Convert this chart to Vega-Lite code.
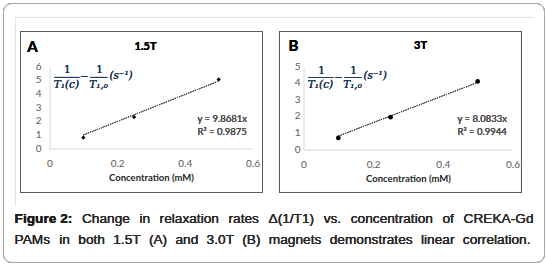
{
  "$schema": "https://vega.github.io/schema/vega-lite/v6.json",
  "autosize": {"type": "pad"},
  "padding": {"left": 2.5, "top": 2.5, "right": 2.5, "bottom": 2.5},
  "background": "white",
  "bounds": "flush",
  "spacing": 51,
  "config": {
    "view": {"stroke": null},
    "axis": {
      "grid": false, "ticks": false, "domainColor": "#d9d9d9", "domainWidth": 1,
      "labelColor": "#595959", "labelFont": "Lato", "labelFontSize": 10, "labelOverlap": false, "labelFlush": false,
      "titleFont": "Lato", "titleFontSize": 9.5, "titleFontWeight": "bold", "titleColor": "#262626"
    },
    "axisY": {"labels": false},
    "text": {"font": "Lato", "fontWeight": "normal"}
  },
  "hconcat": [
    {
      "width": 203,
      "height": 82,
      "data": {"values": [
        {"conc": 0.1, "rate": 0.8},
        {"conc": 0.25, "rate": 2.3},
        {"conc": 0.5, "rate": 5.05}
      ]},
      "layer": [
        {
          "mark": {"type": "rect", "fill": null, "stroke": "#a8a8a8", "strokeWidth": 1, "cornerRadius": 8},
          "encoding": {"x": {"datum": -0.13596}, "x2": {"datum": 1.46306}, "y": {"datum": 10.6095}, "y2": {"datum": -8.341}}
        },
        {
          "mark": {"type": "rule", "stroke": "#e3e3e3", "strokeWidth": 1},
          "encoding": {"x": {"datum": -0.1005}, "x2": {"datum": 1.4306}, "y": {"datum": 9.585}}
        },
        {
          "mark": {"type": "rule", "stroke": "#e3e3e3", "strokeWidth": 1},
          "encoding": {"x": {"datum": -0.1005}, "y": {"datum": 9.585}, "y2": {"datum": -4.17}}
        },
        {
          "mark": {"type": "rect", "fill": null, "stroke": "#5a5a5a", "strokeWidth": 1},
          "encoding": {"x": {"datum": -0.0857}, "x2": {"datum": 0.6296}, "y": {"datum": 8.56}, "y2": {"datum": -3.22}}
        },
        {
          "mark": {"type": "rule", "stroke": "#404040", "strokeWidth": 1, "strokeDash": [1.2, 1.2]},
          "encoding": {"x": {"datum": 0.1}, "x2": {"datum": 0.5}, "y": {"datum": 0.98681}, "y2": {"datum": 4.93405}}
        },
        {
          "mark": {"type": "point", "shape": "diamond", "filled": true, "color": "black", "size": 18, "opacity": 1},
          "encoding": {
            "x": {"field": "conc", "type": "quantitative", "scale": {"domain": [0, 0.6], "nice": false},
              "axis": {"values": [0, 0.2, 0.4, 0.6], "format": "~g", "labelPadding": 10, "titlePadding": 4, "title": "Concentration (mM)"}},
            "y": {"field": "rate", "type": "quantitative", "scale": {"domain": [0, 6], "nice": false},
              "axis": {"labels": false, "title": null}}
          }
        },
        {
          "data": {"values": [{"tick": 0}, {"tick": 1}, {"tick": 2}, {"tick": 3}, {"tick": 4}, {"tick": 5}, {"tick": 6}]},
          "mark": {"type": "text", "font": "Lato", "fontSize": 10, "color": "#595959", "align": "right", "baseline": "middle"},
          "encoding": {"x": {"datum": -0.0236}, "y": {"field": "tick", "type": "quantitative"}, "text": {"field": "tick", "type": "quantitative"}}
        },
        {
          "mark": {"type": "text", "text": "A", "fontSize": 15, "fontWeight": "bold", "color": "#000000", "align": "center", "baseline": "middle"},
          "encoding": {"x": {"datum": -0.0502}, "y": {"datum": 7.463}}
        },
        {
          "mark": {"type": "text", "text": "1.5T", "fontSize": 11, "fontWeight": "bold", "color": "#000000", "align": "center", "baseline": "middle"},
          "encoding": {"x": {"datum": 0.2838}, "y": {"datum": 7.463}}
        },
        {
          "mark": {"type": "text", "text": "y = 9.8681x", "fontSize": 9.5, "color": "#505050", "align": "left", "baseline": "middle"},
          "encoding": {"x": {"datum": 0.4374}, "y": {"datum": 2.195}}
        },
        {
          "mark": {"type": "text", "text": "R² = 0.9875", "fontSize": 9.5, "color": "#505050", "align": "left", "baseline": "middle"},
          "encoding": {"x": {"datum": 0.4374}, "y": {"datum": 1.171}}
        },
        {
          "mark": {"type": "text", "text": "1", "font": "DejaVu Serif", "fontSize": 10.5, "color": "#1f3b5c", "align": "center", "baseline": "middle"},
          "encoding": {"x": {"datum": 0.053}, "y": {"datum": 5.71}}
        },
        {
          "mark": {"type": "rule", "stroke": "#1f3b5c", "strokeWidth": 0.8},
          "encoding": {"x": {"datum": 0.015}, "x2": {"datum": 0.089}, "y": {"datum": 5.2}}
        },
        {
          "mark": {"type": "text", "text": "T₁(c)", "font": "DejaVu Serif", "fontStyle": "italic", "fontSize": 10.5, "color": "#1f3b5c", "align": "center", "baseline": "middle"},
          "encoding": {"x": {"datum": 0.05}, "y": {"datum": 4.65}}
        },
        {
          "mark": {"type": "text", "text": "−", "font": "DejaVu Serif", "fontSize": 10.5, "color": "#1f3b5c", "align": "center", "baseline": "middle"},
          "encoding": {"x": {"datum": 0.103}, "y": {"datum": 5.2}}
        },
        {
          "mark": {"type": "text", "text": "1", "font": "DejaVu Serif", "fontSize": 10.5, "color": "#1f3b5c", "align": "center", "baseline": "middle"},
          "encoding": {"x": {"datum": 0.148}, "y": {"datum": 5.71}}
        },
        {
          "mark": {"type": "rule", "stroke": "#1f3b5c", "strokeWidth": 0.8},
          "encoding": {"x": {"datum": 0.121}, "x2": {"datum": 0.171}, "y": {"datum": 5.2}}
        },
        {
          "mark": {"type": "text", "text": "T₁,₀", "font": "DejaVu Serif", "fontStyle": "italic", "fontSize": 10.5, "color": "#1f3b5c", "align": "center", "baseline": "middle"},
          "encoding": {"x": {"datum": 0.145}, "y": {"datum": 4.65}}
        },
        {
          "mark": {"type": "text", "text": "(s⁻¹)", "font": "DejaVu Serif", "fontStyle": "italic", "fontSize": 10.5, "color": "#1f3b5c", "align": "left", "baseline": "middle"},
          "encoding": {"x": {"datum": 0.177}, "y": {"datum": 5.27}}
        },
        {"mark": {"type": "text", "text": "Figure 2:", "font": "Liberation Sans", "fontWeight": "bold", "fontSize": 13.7, "color": "#1a1a1a", "align": "left", "baseline": "middle"},
         "encoding": {"x": {"datum": -0.1034}, "y": {"datum": -5.195}}},
        {"mark": {"type": "text", "text": "Change", "font": "Liberation Sans", "fontSize": 13.7, "color": "#2a2a2a", "align": "left", "baseline": "middle"},
         "encoding": {"x": {"datum": 0.0958}, "y": {"datum": -5.195}}},
        {"mark": {"type": "text", "text": "in", "font": "Liberation Sans", "fontSize": 13.7, "color": "#2a2a2a", "align": "left", "baseline": "middle"},
         "encoding": {"x": {"datum": 0.2657}, "y": {"datum": -5.195}}},
        {"mark": {"type": "text", "text": "relaxation", "font": "Liberation Sans", "fontSize": 13.7, "color": "#2a2a2a", "align": "left", "baseline": "middle"},
         "encoding": {"x": {"datum": 0.3254}, "y": {"datum": -5.195}}},
        {"mark": {"type": "text", "text": "rates", "font": "Liberation Sans", "fontSize": 13.7, "color": "#2a2a2a", "align": "left", "baseline": "middle"},
         "encoding": {"x": {"datum": 0.5291}, "y": {"datum": -5.195}}},
        {"mark": {"type": "text", "text": "Δ(1/T1)", "font": "Liberation Sans", "fontSize": 13.7, "color": "#2a2a2a", "align": "left", "baseline": "middle"},
         "encoding": {"x": {"datum": 0.6473}, "y": {"datum": -5.195}}},
        {"mark": {"type": "text", "text": "vs.", "font": "Liberation Sans", "fontSize": 13.7, "color": "#2a2a2a", "align": "left", "baseline": "middle"},
         "encoding": {"x": {"datum": 0.8104}, "y": {"datum": -5.195}}},
        {"mark": {"type": "text", "text": "concentration", "font": "Liberation Sans", "fontSize": 13.7, "color": "#2a2a2a", "align": "left", "baseline": "middle"},
         "encoding": {"x": {"datum": 0.8903}, "y": {"datum": -5.195}}},
        {"mark": {"type": "text", "text": "of", "font": "Liberation Sans", "fontSize": 13.7, "color": "#2a2a2a", "align": "left", "baseline": "middle"},
         "encoding": {"x": {"datum": 1.1616}, "y": {"datum": -5.195}}},
        {"mark": {"type": "text", "text": "CREKA-Gd", "font": "Liberation Sans", "fontSize": 13.7, "color": "#2a2a2a", "align": "right", "baseline": "middle"},
         "encoding": {"x": {"datum": 1.4306}, "y": {"datum": -5.195}}},
        {"mark": {"type": "text", "text": "PAMs", "font": "Liberation Sans", "fontSize": 13.7, "color": "#2a2a2a", "align": "left", "baseline": "middle"},
         "encoding": {"x": {"datum": -0.1034}, "y": {"datum": -6.73}}},
        {"mark": {"type": "text", "text": "in", "font": "Liberation Sans", "fontSize": 13.7, "color": "#2a2a2a", "align": "left", "baseline": "middle"},
         "encoding": {"x": {"datum": 0.02906}, "y": {"datum": -6.73}}},
        {"mark": {"type": "text", "text": "both", "font": "Liberation Sans", "fontSize": 13.7, "color": "#2a2a2a", "align": "left", "baseline": "middle"},
         "encoding": {"x": {"datum": 0.08504}, "y": {"datum": -6.73}}},
        {"mark": {"type": "text", "text": "1.5T", "font": "Liberation Sans", "fontSize": 13.7, "color": "#2a2a2a", "align": "left", "baseline": "middle"},
         "encoding": {"x": {"datum": 0.18834}, "y": {"datum": -6.73}}},
        {"mark": {"type": "text", "text": "(A)", "font": "Liberation Sans", "fontSize": 13.7, "color": "#2a2a2a", "align": "left", "baseline": "middle"},
         "encoding": {"x": {"datum": 0.29386}, "y": {"datum": -6.73}}},
        {"mark": {"type": "text", "text": "and", "font": "Liberation Sans", "fontSize": 13.7, "color": "#2a2a2a", "align": "left", "baseline": "middle"},
         "encoding": {"x": {"datum": 0.37233}, "y": {"datum": -6.73}}},
        {"mark": {"type": "text", "text": "3.0T", "font": "Liberation Sans", "fontSize": 13.7, "color": "#2a2a2a", "align": "left", "baseline": "middle"},
         "encoding": {"x": {"datum": 0.46434}, "y": {"datum": -6.73}}},
        {"mark": {"type": "text", "text": "(B)", "font": "Liberation Sans", "fontSize": 13.7, "color": "#2a2a2a", "align": "left", "baseline": "middle"},
         "encoding": {"x": {"datum": 0.56986}, "y": {"datum": -6.73}}},
        {"mark": {"type": "text", "text": "magnets", "font": "Liberation Sans", "fontSize": 13.7, "color": "#2a2a2a", "align": "left", "baseline": "middle"},
         "encoding": {"x": {"datum": 0.64834}, "y": {"datum": -6.73}}},
        {"mark": {"type": "text", "text": "demonstrates", "font": "Liberation Sans", "fontSize": 13.7, "color": "#2a2a2a", "align": "left", "baseline": "middle"},
         "encoding": {"x": {"datum": 0.82813}, "y": {"datum": -6.73}}},
        {"mark": {"type": "text", "text": "linear", "font": "Liberation Sans", "fontSize": 13.7, "color": "#2a2a2a", "align": "left", "baseline": "middle"},
         "encoding": {"x": {"datum": 1.09791}, "y": {"datum": -6.73}}},
        {"mark": {"type": "text", "text": "correlation.", "font": "Liberation Sans", "fontSize": 13.7, "color": "#2a2a2a", "align": "right", "baseline": "middle"},
         "encoding": {"x": {"datum": 1.4218}, "y": {"datum": -6.73}}}
      ]
    },
    {
      "width": 209,
      "height": 83,
      "data": {"values": [
        {"conc": 0.1, "rate": 0.7},
        {"conc": 0.25, "rate": 1.95},
        {"conc": 0.5, "rate": 4.1}
      ]},
      "layer": [
        {
          "mark": {"type": "rect", "fill": null, "stroke": "#5a5a5a", "strokeWidth": 1},
          "encoding": {"x": {"datum": -0.0689}, "x2": {"datum": 0.6258}, "y": {"datum": 7.108}, "y2": {"datum": -2.59}}
        },
        {
          "mark": {"type": "rule", "stroke": "#404040", "strokeWidth": 1, "strokeDash": [1.2, 1.2]},
          "encoding": {"x": {"datum": 0.1}, "x2": {"datum": 0.5}, "y": {"datum": 0.80833}, "y2": {"datum": 4.04165}}
        },
        {
          "mark": {"type": "point", "shape": "circle", "filled": true, "color": "black", "size": 22, "opacity": 1},
          "encoding": {
            "x": {"field": "conc", "type": "quantitative", "scale": {"domain": [0, 0.6], "nice": false},
              "axis": {"values": [0, 0.2, 0.4, 0.6], "format": "~g", "labelPadding": 10, "titlePadding": 4, "title": "Concentration (mM)"}},
            "y": {"field": "rate", "type": "quantitative", "scale": {"domain": [0, 5], "nice": false},
              "axis": {"labels": false, "title": null}}
          }
        },
        {
          "data": {"values": [{"tick": 0}, {"tick": 1}, {"tick": 2}, {"tick": 3}, {"tick": 4}, {"tick": 5}]},
          "mark": {"type": "text", "font": "Lato", "fontSize": 10, "color": "#595959", "align": "right", "baseline": "middle"},
          "encoding": {"x": {"datum": -0.0086}, "y": {"field": "tick", "type": "quantitative"}, "text": {"field": "tick", "type": "quantitative"}}
        },
        {
          "mark": {"type": "text", "text": "B", "fontSize": 15, "fontWeight": "bold", "color": "#000000", "align": "center", "baseline": "middle"},
          "encoding": {"x": {"datum": -0.0287}, "y": {"datum": 6.205}}
        },
        {
          "mark": {"type": "text", "text": "3T", "fontSize": 11, "fontWeight": "bold", "color": "#000000", "align": "center", "baseline": "middle"},
          "encoding": {"x": {"datum": 0.3359}, "y": {"datum": 6.205}}
        },
        {
          "mark": {"type": "text", "text": "y = 8.0833x", "fontSize": 9.5, "color": "#505050", "align": "left", "baseline": "middle"},
          "encoding": {"x": {"datum": 0.442}, "y": {"datum": 1.867}}
        },
        {
          "mark": {"type": "text", "text": "R² = 0.9944", "fontSize": 9.5, "color": "#505050", "align": "left", "baseline": "middle"},
          "encoding": {"x": {"datum": 0.442}, "y": {"datum": 1.084}}
        },
        {
          "mark": {"type": "text", "text": "1", "font": "DejaVu Serif", "fontSize": 10.5, "color": "#1f3b5c", "align": "center", "baseline": "middle"},
          "encoding": {"x": {"datum": 0.0517}, "y": {"datum": 4.759}}
        },
        {
          "mark": {"type": "rule", "stroke": "#1f3b5c", "strokeWidth": 0.8},
          "encoding": {"x": {"datum": 0.01435}, "x2": {"datum": 0.0861}, "y": {"datum": 4.337}}
        },
        {
          "mark": {"type": "text", "text": "T₁(c)", "font": "DejaVu Serif", "fontStyle": "italic", "fontSize": 10.5, "color": "#1f3b5c", "align": "center", "baseline": "middle"},
          "encoding": {"x": {"datum": 0.0488}, "y": {"datum": 3.89}}
        },
        {
          "mark": {"type": "text", "text": "−", "font": "DejaVu Serif", "fontSize": 10.5, "color": "#1f3b5c", "align": "center", "baseline": "middle"},
          "encoding": {"x": {"datum": 0.1005}, "y": {"datum": 4.337}}
        },
        {
          "mark": {"type": "text", "text": "1", "font": "DejaVu Serif", "fontSize": 10.5, "color": "#1f3b5c", "align": "center", "baseline": "middle"},
          "encoding": {"x": {"datum": 0.1435}, "y": {"datum": 4.759}}
        },
        {
          "mark": {"type": "rule", "stroke": "#1f3b5c", "strokeWidth": 0.8},
          "encoding": {"x": {"datum": 0.1177}, "x2": {"datum": 0.1665}, "y": {"datum": 4.337}}
        },
        {
          "mark": {"type": "text", "text": "T₁,₀", "font": "DejaVu Serif", "fontStyle": "italic", "fontSize": 10.5, "color": "#1f3b5c", "align": "center", "baseline": "middle"},
          "encoding": {"x": {"datum": 0.1407}, "y": {"datum": 3.89}}
        },
        {
          "mark": {"type": "text", "text": "(s⁻¹)", "font": "DejaVu Serif", "fontStyle": "italic", "fontSize": 10.5, "color": "#1f3b5c", "align": "left", "baseline": "middle"},
          "encoding": {"x": {"datum": 0.1722}, "y": {"datum": 4.398}}
        }
      ]
    }
  ]
}
